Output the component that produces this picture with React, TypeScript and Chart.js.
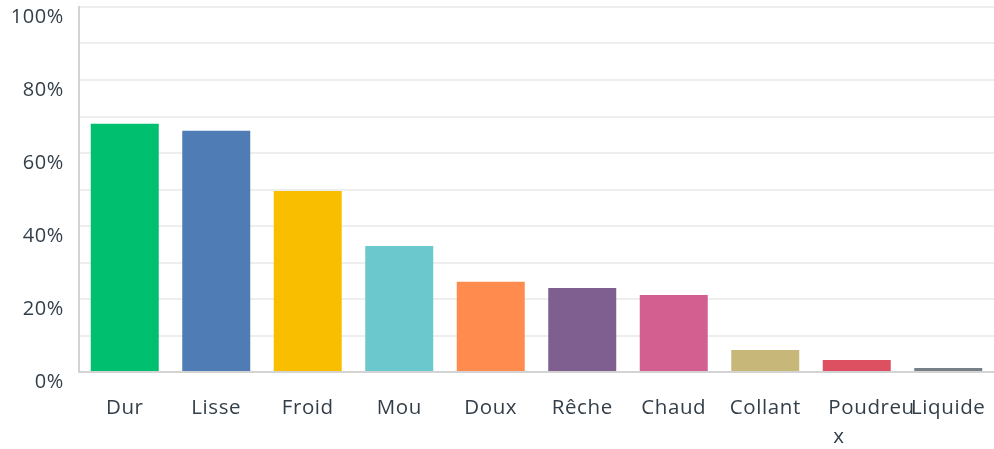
import React, { useEffect, useRef } from "react";
import { Chart, registerables } from "chart.js";

Chart.register(...registerables);

const categories: (string | string[])[] = [
  "Dur",
  "Lisse",
  "Froid",
  "Mou",
  "Doux",
  "Rêche",
  "Chaud",
  "Collant",
  ["     Poudreu", "x      "],
  "Liquide",
];
const values = [68.0, 66.1, 49.6, 34.5, 24.7, 23.0, 21.1, 6.0, 3.3, 1.1];
const barColors = [
  "#00bf6f",
  "#507cb6",
  "#f9be00",
  "#6bc8cd",
  "#ff8b4f",
  "#7f5f90",
  "#d25f90",
  "#c7b879",
  "#dc5061",
  "#768086",
];
const yTickLabels = ["0%", "20%", "40%", "60%", "80%", "100%"];

const FONT = "'Open Sans', sans-serif";
const TEXT = "#333e48";
const SPACING = "0.6px";

const spacingPlugin = {
  id: "letterSpacing",
  beforeDraw(chart: any) {
    chart.ctx.letterSpacing = SPACING;
  },
  beforeUpdate(chart: any) {
    chart.ctx.letterSpacing = SPACING;
  },
  beforeLayout(chart: any) {
    chart.ctx.letterSpacing = SPACING;
  },
};

export default function App() {
  const ref = useRef<HTMLCanvasElement | null>(null);
  useEffect(() => {
    document.body.style.margin = "0";
    const ctx = ref.current!.getContext("2d")!;
    const chart = new Chart(ctx, {
      type: "bar",
      data: {
        labels: categories,
        datasets: [
          {
            data: values,
            backgroundColor: barColors,
            borderWidth: 0,
            barPercentage: 0.743,
            categoryPercentage: 1,
          },
        ],
      },
      plugins: [spacingPlugin],
      options: {
        animation: false,
        responsive: false,
        maintainAspectRatio: false,
        layout: { padding: { top: 7, right: 0, left: 0, bottom: 0 } },
        plugins: {
          legend: { display: false },
          tooltip: { enabled: false },
        },
        scales: {
          x: {
            grid: { display: false, drawTicks: false },
            border: { display: true, color: "#d3d3d3", width: 2 },
            ticks: {
              color: TEXT,
              font: { family: FONT, size: 20.5, lineHeight: 1.45 },
              padding: 21,
              maxRotation: 0,
              minRotation: 0,
              autoSkip: false,
            },
            afterFit(scale: any) {
              scale.height = 77;
              scale.paddingLeft = 0;
              scale.paddingRight = 0;
            },
          },
          y: {
            min: 0,
            max: 100,
            grid: { color: "#eeeeee", lineWidth: 2, drawTicks: false },
            border: { display: true, color: "#d3d3d3", width: 2 },
            ticks: {
              stepSize: 10,
              color: TEXT,
              font: { family: FONT, size: 20 },
              padding: 15,
              labelOffset: 10,
              callback: (v: any) => {
                const n = Number(v);
                if (n % 20 !== 0) return "";
                return yTickLabels[n / 20];
              },
            },
            afterFit(scale: any) {
              scale.width = 79;
              scale.paddingTop = 0;
              scale.paddingBottom = 0;
            },
          },
        },
      },
    });
    return () => chart.destroy();
  }, []);
  return (
    <div style={{ position: "absolute", left: 0, top: 0, width: 994, height: 449 }}>
      <canvas ref={ref} width={994} height={449} style={{ width: 994, height: 449 }} />
    </div>
  );
}
